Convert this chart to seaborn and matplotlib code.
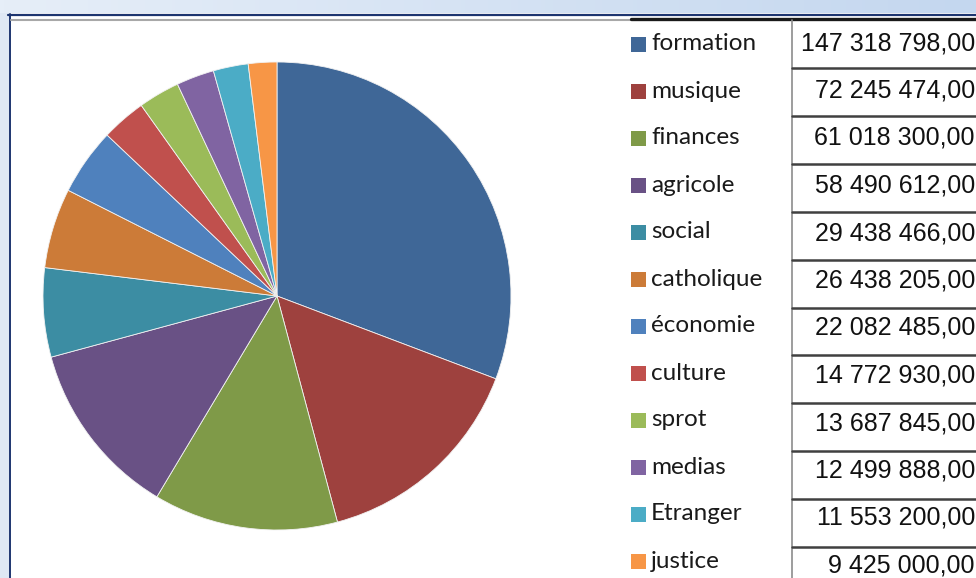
import numpy as np
import matplotlib
matplotlib.use("Agg")
import matplotlib.pyplot as plt
import seaborn as sns
from matplotlib.patches import Rectangle
from matplotlib.colors import LinearSegmentedColormap

# données du graphique
categories = ['formation', 'musique', 'finances', 'agricole', 'social', 'catholique',
              'économie', 'culture', 'sprot', 'medias', 'Etranger', 'justice']
montants = [147318798, 72245474, 61018300, 58490612, 29438466, 26438205,
            22082485, 14772930, 13687845, 12499888, 11553200, 9425000]
couleurs = ['#3F6797', '#9E413E', '#7F9A48', '#695185', '#3C8DA3', '#CC7B38',
            '#4F81BD', '#C0504D', '#9BBB59', '#8064A2', '#4BACC6', '#F79646']

sns.set_theme(style='white')
plt.rcParams['font.family'] = ['Lato', 'DejaVu Sans']

W, H = 976, 578
fig = plt.figure(figsize=(W / 100, H / 100), dpi=100)
fig.patch.set_facecolor('white')

# fond : cadre de la fenêtre Excel et tableau
bg = fig.add_axes([0, 0, 1, 1])
grad = np.linspace(0, 1, 256).reshape(1, -1)
cmap_bar = LinearSegmentedColormap.from_list('barre', ['#e6eef8', '#c4d7ef'])
bg.imshow(grad, extent=[0, W, 13, 0], cmap=cmap_bar, aspect='auto')
bg.add_patch(Rectangle((0, 13), 9, H - 13, color='#dfe8f4', lw=0))
bg.plot([8, W], [14.5, 14.5], color='#1d3570', lw=1.6)
bg.plot([10, 10], [14, H], color='#1d3570', lw=1.4)
bg.plot([11, 631], [19.5, 19.5], color='#a8a8a8', lw=1.5)
bg.plot([631, W], [19, 19], color='#1a1a1a', lw=2.4)
bg.plot([792, 792], [20, H], color='#8c8c8c', lw=1.2)

for i in range(len(categories) - 1):
    y = 68 + 47.9 * i
    bg.plot([792, W], [y, y], color='#404040', lw=1.8)

# légende
for i, (cat, col) in enumerate(zip(categories, couleurs)):
    y = 44 + 47 * i
    bg.add_patch(Rectangle((631, y - 7), 15, 15, color=col, lw=0))
    bg.text(651, y, cat, fontsize=17.5, color='#1a1a1a', va='center', ha='left')

# colonne des montants
for i, v in enumerate(montants):
    y = 43 + 47.5 * i
    txt = f"{v:,.2f}".replace(',', ' ').replace('.', ',')
    bg.text(975, y, txt, fontsize=18, color='#111111', va='center', ha='right',
            family=['Liberation Sans Narrow', 'Liberation Sans', 'DejaVu Sans'])

bg.set_xlim(0, W)
bg.set_ylim(H, 0)
bg.axis('off')

# camembert
cx, cy, r = 277, 296, 234
ax = fig.add_axes([(cx - r) / W, (H - cy - r) / H, 2 * r / W, 2 * r / H])
ax.pie(montants, colors=couleurs, startangle=90, counterclock=False, radius=1,
       wedgeprops=dict(edgecolor='#f2f2f2', linewidth=0.6))
ax.set_xlim(-1, 1)
ax.set_ylim(-1, 1)
ax.set_aspect('equal')
ax.axis('off')

fig.savefig('out.png', dpi=100)
